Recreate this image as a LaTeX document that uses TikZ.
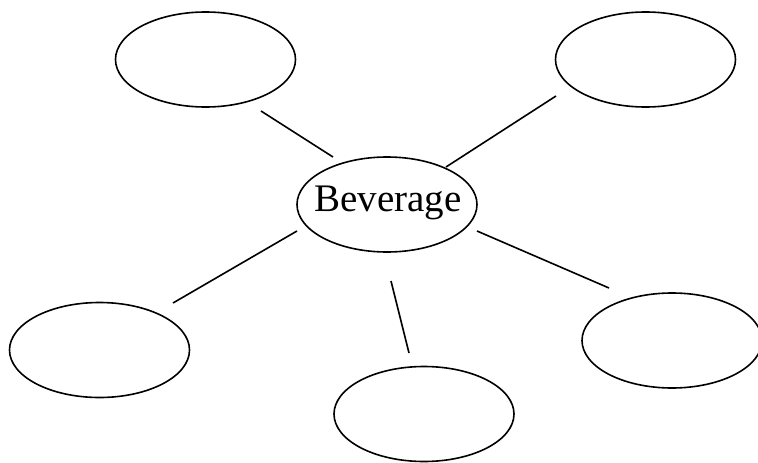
\documentclass[tikz,border=0pt]{standalone}
\usepackage{fontspec}
\setmainfont{Liberation Serif}
\usetikzlibrary{shapes.geometric}
\begin{document}
\begin{tikzpicture}[x=1pt,y=-1pt,
  bubble/.style={ellipse,draw=black,line width=1.6pt,minimum width=180pt,minimum height=95pt,inner sep=0pt},
  bigtext/.style={font=\fontsize{39}{40}\selectfont,inner sep=0pt},
  link/.style={draw=black,line width=1.6pt}]
\useasboundingbox (0,0) rectangle (758,463);
\node[bubble] (center) at (387,204.5) {};
\node[bigtext] (title) at (388,203) {Beverage};
\node[bubble] (tl) at (205.5,59.5) {};
\node[bubble] (tr) at (645.5,59.5) {};
\node[bubble] (bl) at (99.5,350) {};
\node[bubble] (bm) at (424,414) {};
\node[bubble] (br) at (672,340.5) {};
\coordinate (a1) at (261,111);
\coordinate (a2) at (333,157);
\coordinate (b1) at (446,167);
\coordinate (b2) at (556,96);
\coordinate (c1) at (297,231);
\coordinate (c2) at (173,303);
\coordinate (d1) at (477,231);
\coordinate (d2) at (609,288);
\coordinate (e1) at (391,281);
\coordinate (e2) at (409,353);
\draw[link] (a1) -- (a2);
\draw[link] (b1) -- (b2);
\draw[link] (c1) -- (c2);
\draw[link] (d1) -- (d2);
\draw[link] (e1) -- (e2);
\end{tikzpicture}
\end{document}
